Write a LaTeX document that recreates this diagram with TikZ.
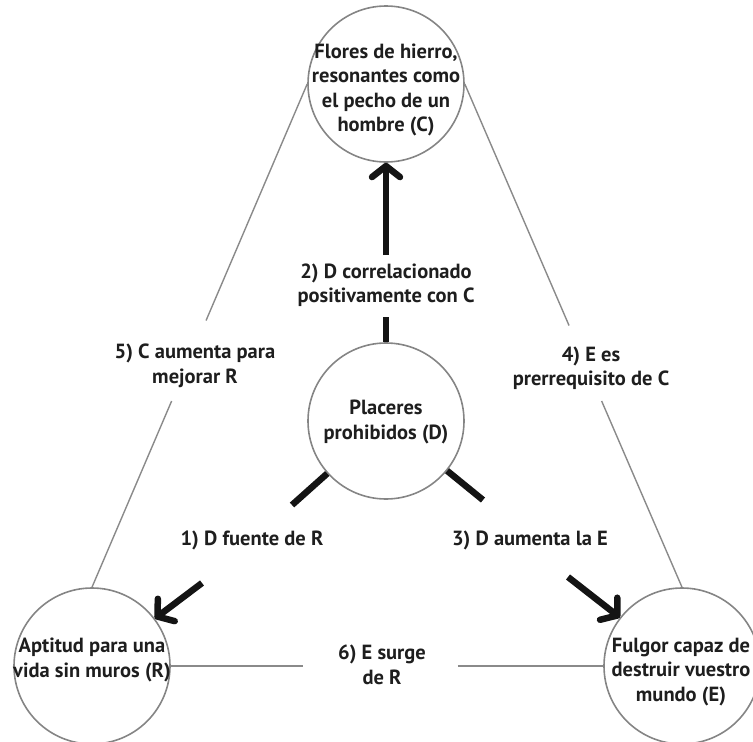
\documentclass[tikz,border=0pt]{standalone}
\usepackage{fontspec}
\setmainfont{PT Sans}
\usetikzlibrary{arrows.meta,calc}
\definecolor{circgray}{HTML}{858585}
\definecolor{linegray}{HTML}{8A8A8A}
\definecolor{txtcol}{HTML}{1E1E1E}
\begin{document}
\begin{tikzpicture}[x=1pt,y=-1pt,
  circ/.style={circle,draw=circgray,line width=1.6pt,minimum size=156pt,inner sep=0pt},
  txt/.style={align=center,font=\fontsize{20.5}{24.5}\selectfont\bfseries,text=txtcol,inner sep=0pt},
  grayline/.style={draw=linegray,line width=1.4pt},
  heavy/.style={draw=black!92,line width=6.5pt},
  heavyarrow/.style={heavy,-{Straight Barb[length=11pt,width=28pt,round]}}
]
\path[use as bounding box,clip] (0,0) rectangle (753,742);

% circles
\node[circ] (C) at (386,84) {};
\node[circ] (D) at (386,421) {};
\node[circ] (R) at (92,666) {};
\node[circ] (E) at (682,666) {};

% circle texts
\node[txt] (Ct) at (386,90) {Flores de hierro,\\resonantes como\\el pecho de un\\hombre (C)};
\node[txt] (Dt) at (386,422) {Placeres\\prohibidos (D)};
\node[txt] (Rt) at (92,660) {Aptitud para una\\vida sin muros (R)};
\node[txt] (Et) at (681,672) {Fulgor capaz de\\destruir vuestro\\mundo (E)};

% labels
\node[txt] (L2) at (386,285) {2) D correlacionado\\positivamente con C};
\node[txt] (L5) at (195,366) {5) C aumenta para\\mejorar R};
\node[txt] (L4) at (591,368) {4) E es\\prerrequisito de C};
\node[txt] (L1) at (252,540) {1) D fuente de R};
\node[txt] (L3) at (530,540) {3) D aumenta la E};
\node[txt] (L6) at (382,665) {6) E surge\\de R};

% gap coordinates
\coordinate (c2a) at (386,317);
\coordinate (c2b) at (386,255);
\coordinate (c1a) at (292,505);
\coordinate (c1b) at (202,583);
\coordinate (c3a) at (483,500);
\coordinate (c3b) at (568,577);
\coordinate (c5a) at ($(C.west)!0.47!(R.north)$);
\coordinate (c5b) at ($(C.west)!0.63!(R.north)$);
\coordinate (c4a) at ($(C.east)!0.48!(E.north)$);
\coordinate (c4b) at ($(C.east)!0.63!(E.north)$);
\coordinate (c6a) at ($(R.east)!0.306!(E.west)$);
\coordinate (c6b) at ($(R.east)!0.664!(E.west)$);

% thin connectors
\draw[grayline] (C.west) -- (c5a);
\draw[grayline] (c5b) -- (R.north);
\draw[grayline] (C.east) -- (c4a);
\draw[grayline] (c4b) -- (E.north);
\draw[grayline] (R.east) -- (c6a);
\draw[grayline] (c6b) -- (E.west);

% heavy arrows
\draw[heavy] (D) -- (c2a);
\draw[heavyarrow] (c2b) -- (C);
\draw[heavy] (D) -- (c1a);
\draw[heavyarrow] (c1b) -- (R);
\draw[heavy] (D) -- (c3a);
\draw[heavyarrow] (c3b) -- (E);
\end{tikzpicture}
\end{document}
